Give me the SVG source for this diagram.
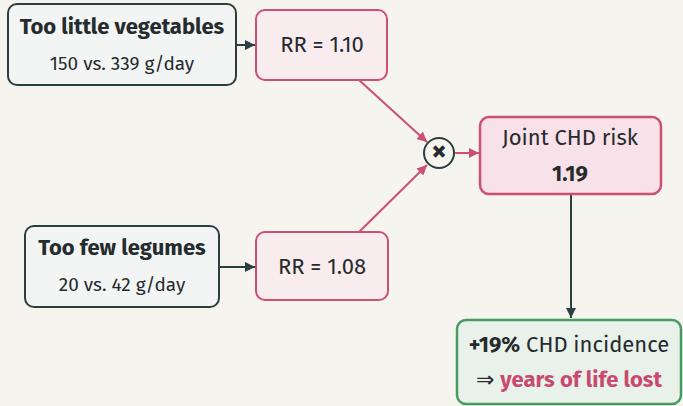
<svg xmlns="http://www.w3.org/2000/svg" width="683" height="406" viewBox="0 0 683 406">
<defs>
<style>
text{font-family:"Fira Sans","Noto Sans","Open Sans","DejaVu Sans",sans-serif;fill:#262b2d;text-anchor:middle}
.b{font-weight:bold}
.src{fill:#f3f5f5;stroke:#2d3e40;stroke-width:2}
.rr{fill:#f9ecef;stroke:#cc4f74;stroke-width:2}
.joint{fill:#f8e1e8;stroke:#cc4f74;stroke-width:2.5}
.out{fill:#e8f1ea;stroke:#4a9a5f;stroke-width:2.5}
.dk{stroke:#2d3e40;stroke-width:2;fill:none}
.pk{stroke:#cc4f74;stroke-width:2;fill:none}
</style>
<marker id="ad" viewBox="0 0 10 10" refX="10" refY="5" markerWidth="5" markerHeight="5" orient="auto"><path d="M0,0L10,5L0,10z" fill="#2d3e40"/></marker>
<marker id="ap" viewBox="0 0 10 10" refX="10" refY="5" markerWidth="5" markerHeight="5" orient="auto"><path d="M0,0L10,5L0,10z" fill="#cc4f74"/></marker>
</defs>
<rect width="683" height="406" fill="#f5f4ef"/>
<g id="connectors">
<line class="dk" x1="236" y1="45" x2="255" y2="45" marker-end="url(#ad)"/>
<line class="dk" x1="220" y1="267" x2="255" y2="267" marker-end="url(#ad)"/>
<line class="pk" x1="359" y1="80" x2="427" y2="142" marker-end="url(#ap)"/>
<line class="pk" x1="359" y1="232" x2="427" y2="165" marker-end="url(#ap)"/>
<line class="pk" x1="455" y1="153" x2="479" y2="153" marker-end="url(#ap)"/>
<line class="dk" x1="571" y1="195" x2="571" y2="318" marker-end="url(#ad)"/>
</g>
<g id="veg">
<rect class="src" x="8" y="4" width="228" height="81" rx="9"/>
<text class="b" x="122" y="34" font-size="22">Too little vegetables</text>
<text x="122" y="70" font-size="19">150 vs. 339 g/day</text>
</g>
<g id="rr110">
<rect class="rr" x="256" y="10" width="131" height="70" rx="9"/>
<text x="322" y="52" font-size="22">RR = 1.10</text>
</g>
<g id="leg">
<rect class="src" x="25" y="226" width="194" height="81" rx="9"/>
<text class="b" x="122" y="255" font-size="22">Too few legumes</text>
<text x="122" y="291" font-size="19">20 vs. 42 g/day</text>
</g>
<g id="rr108">
<rect class="rr" x="256" y="232" width="132" height="68" rx="9"/>
<text x="322" y="274" font-size="22">RR = 1.08</text>
</g>
<g id="mult">
<circle cx="439" cy="153" r="15" fill="#f5f4ef" stroke="#2d3e40" stroke-width="2"/>
<text class="b" x="439" y="161" font-size="30">×</text>
</g>
<g id="joint">
<rect class="joint" x="480" y="117" width="181" height="77" rx="9"/>
<text x="570" y="145" font-size="22">Joint CHD risk</text>
<text class="b" x="570" y="181" font-size="22">1.19</text>
</g>
<g id="outcome">
<rect class="out" x="457" y="320" width="224" height="84" rx="9"/>
<text x="569" y="352" font-size="22"><tspan class="b">+19%</tspan> CHD incidence</text>
<text x="569" y="387" font-size="22">⇒ <tspan class="b" fill="#c94a70">years of life lost</tspan></text>
</g>
</svg>
